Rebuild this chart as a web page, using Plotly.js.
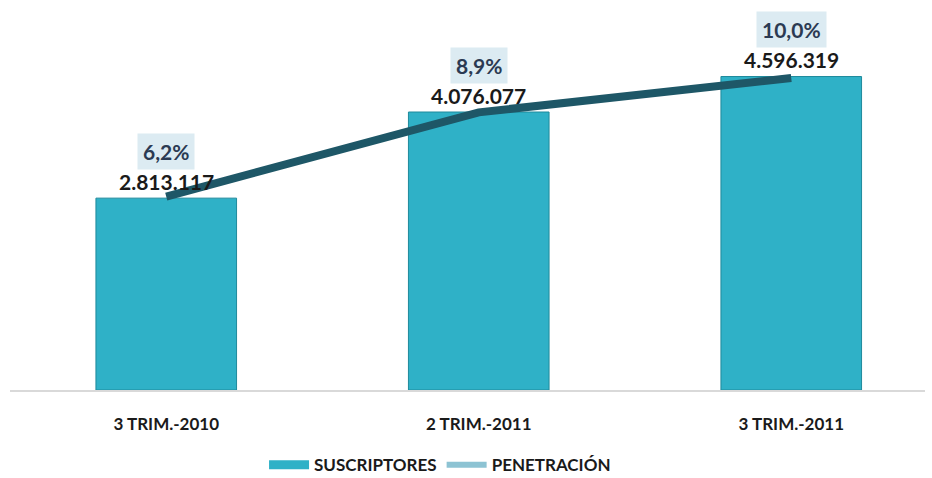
<!DOCTYPE html>
<html><head><meta charset="utf-8">
<script src="https://cdn.plot.ly/plotly-3.0.1.min.js"></script>
<style>html,body{margin:0;padding:0;background:#fff}#chart{width:932px;height:478px}</style>
</head><body><div id="chart"></div>
<script>
const categories = ['3 TRIM.-2010', '2 TRIM.-2011', '3 TRIM.-2011'];
const suscriptores = [2813117, 4076077, 4596319];
const suscriptoresLabels = ['2.813.117', '4.076.077', '4.596.319'];
const penetracion = [6.2, 8.9, 10.0];
const penetracionLabels = ['6,2%', '8,9%', '10,0%'];

const FONT = 'Lato, "Liberation Sans", sans-serif';

const traces = [
  {
    type: 'bar', name: 'SUSCRIPTORES', x: categories, y: suscriptores,
    marker: {color: '#2fb1c7', line: {color: '#1f8a9c', width: 1}},
    showlegend: false, hoverinfo: 'skip'
  },
  {
    type: 'scatter', mode: 'lines', name: 'PENETRACIÓN', x: categories, y: penetracion,
    yaxis: 'y2', line: {color: '#1e5767', width: 8}, showlegend: false, hoverinfo: 'skip'
  },
  {
    type: 'scatter', mode: 'lines', name: 'SUSCRIPTORES', x: categories, y: categories.map(() => null),
    line: {color: '#2fb1c7', width: 9}, hoverinfo: 'skip'
  },
  {
    type: 'scatter', mode: 'lines', name: 'PENETRACIÓN', x: categories, y: categories.map(() => null),
    yaxis: 'y2', line: {color: '#8dc3d3', width: 6}, hoverinfo: 'skip'
  }
];

const annotations = [];
categories.forEach((c, i) => {
  annotations.push({
    x: c, y: suscriptores[i], xref: 'x', yref: 'y', text: '<b>' + suscriptoresLabels[i] + '</b>',
    showarrow: false, yshift: 17, font: {family: FONT, size: 21, color: '#1a1a1a'}
  });
  annotations.push({
    x: c, y: suscriptores[i], xref: 'x', yref: 'y', text: '<b>' + penetracionLabels[i] + '</b>',
    showarrow: false, yshift: 47, bgcolor: '#dcebf2', borderpad: 5,
    font: {family: FONT, size: 21, color: '#2b3a52'}
  });
});

const layout = {
  width: 932, height: 478,
  margin: {l: 10, r: 7, t: 20, b: 88, autoexpand: false},
  paper_bgcolor: '#ffffff', plot_bgcolor: '#ffffff',
  showlegend: true,
  legend: {orientation: 'h', x: 0.47, xanchor: 'center', y: -0.203, yanchor: 'middle',
           font: {family: FONT, size: 17, color: '#1a1a1a', weight: 'bold'}, itemwidth: 40},
  bargap: 0.55,
  xaxis: {
    range: [-0.5, 2.428], showgrid: false, zeroline: false,
    showline: true, linecolor: '#d9d9d9', linewidth: 2, ticks: '',
    tickfont: {family: FONT, size: 17, color: '#1a1a1a', weight: 'bold'}, ticklabelstandoff: 18
  },
  yaxis: {range: [0, 5425000], visible: false, showgrid: false, zeroline: false},
  yaxis2: {range: [0, 11.86], overlaying: 'y', visible: false, showgrid: false, zeroline: false},
  annotations: annotations
};

Plotly.newPlot('chart', traces, layout, {displayModeBar: false, staticPlot: true});
</script></body></html>
